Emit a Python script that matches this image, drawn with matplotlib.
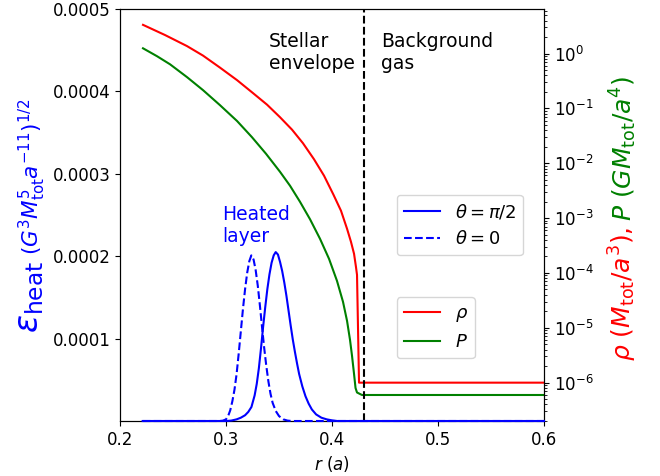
import matplotlib
matplotlib.use("Agg")
import matplotlib.pyplot as plt

# ---- data ----
r_rho = [0.2217, 0.2425, 0.2632, 0.2783, 0.2943, 0.3104, 0.3255, 0.3387, 0.3509,
         0.3623, 0.3726, 0.3830, 0.3925, 0.4014, 0.4085, 0.4142, 0.4179, 0.4208,
         0.4226, 0.4236, 0.4255, 0.6]
rho = [3.342, 2.177, 1.370, 0.9194, 0.5552, 0.3282, 0.1901, 0.1172, 0.06931,
       0.04099, 0.02323, 0.01186, 5.928e-3, 2.668e-3, 1.361e-3, 6.39e-4, 3.70e-4, 2.234e-4,
       1.293e-4, 9.24e-5, 1.0e-6, 1.0e-6]

r_P = [0.2217, 0.2349, 0.2472, 0.2632, 0.2783, 0.2943, 0.3104, 0.3245, 0.3377,
       0.3509, 0.3604, 0.3698, 0.3793, 0.3887, 0.3972, 0.4047, 0.4104, 0.4142,
       0.4170, 0.4189, 0.4208, 0.4222, 0.4236, 0.4283, 0.6]
P = [1.249, 0.8965, 0.6378, 0.3724, 0.2157, 0.1148, 0.05906, 0.02990, 0.01495,
     7.014e-3, 3.895e-3, 1.987e-3, 9.52e-4, 4.195e-4, 1.810e-4, 7.18e-5, 2.971e-5, 1.336e-5,
     6.013e-6, 3.069e-6, 1.440e-6, 7.99e-7, 6.62e-7, 5.96e-7, 5.96e-7]

r_heat_eq = [0.2214, 0.300, 0.305, 0.310, 0.314, 0.318, 0.321, 0.324, 0.327, 0.329,
             0.331, 0.333, 0.335, 0.337, 0.339, 0.341, 0.343, 0.345, 0.3469, 0.349,
             0.351, 0.353, 0.355, 0.357, 0.359, 0.361, 0.363, 0.365, 0.367, 0.369,
             0.372, 0.375, 0.378, 0.381, 0.385, 0.390, 0.395, 0.400, 0.405, 0.6]
heat_eq = [0, 0, 0.005e-4, 0.02e-4, 0.04e-4, 0.07e-4, 0.11e-4, 0.17e-4, 0.31e-4, 0.45e-4,
           0.64e-4, 0.88e-4, 1.14e-4, 1.38e-4, 1.60e-4, 1.78e-4, 1.92e-4, 2.01e-4, 2.05e-4, 2.02e-4,
           1.93e-4, 1.82e-4, 1.68e-4, 1.52e-4, 1.34e-4, 1.16e-4, 0.99e-4, 0.84e-4, 0.70e-4, 0.57e-4,
           0.42e-4, 0.30e-4, 0.21e-4, 0.14e-4, 0.08e-4, 0.04e-4, 0.02e-4, 0.008e-4, 0, 0]

r_heat_pole = [0.2214, 0.294, 0.297, 0.300, 0.302, 0.304, 0.306, 0.308, 0.310, 0.312,
               0.314, 0.316, 0.318, 0.320, 0.322, 0.3239, 0.326, 0.328, 0.330, 0.332,
               0.334, 0.336, 0.338, 0.340, 0.342, 0.344, 0.347, 0.350, 0.354, 0.358,
               0.362, 0.6]
heat_pole = [0, 0, 0.004e-4, 0.02e-4, 0.06e-4, 0.13e-4, 0.24e-4, 0.38e-4, 0.57e-4, 0.82e-4,
             1.09e-4, 1.36e-4, 1.60e-4, 1.80e-4, 1.94e-4, 2.01e-4, 1.96e-4, 1.83e-4, 1.64e-4, 1.40e-4,
             1.14e-4, 0.89e-4, 0.67e-4, 0.48e-4, 0.33e-4, 0.22e-4, 0.12e-4, 0.06e-4, 0.02e-4, 0.005e-4,
             0, 0]

r_boundary = 0.43
left_ticks = [0.0001, 0.0002, 0.0003, 0.0004, 0.0005]
left_ticklabels = ["0.0001", "0.0002", "0.0003", "0.0004", "0.0005"]
x_ticks = [0.2, 0.3, 0.4, 0.5, 0.6]

fig = plt.figure(figsize=(6.6, 4.76), dpi=100)
ax = fig.add_axes([120/660, 1-421/476, 424/660, 412/476])
ax2 = ax.twinx()
ax.set_zorder(ax2.get_zorder() + 1)
ax.patch.set_visible(False)

# density / pressure on right log axis
ax2.plot(r_rho, rho, color="red", lw=1.5, label=r"$\rho$")
ax2.plot(r_P, P, color="green", lw=1.5, label=r"$P$")
ax2.set_yscale("log")
ax2.set_ylim(2.0e-7, 6.5)
ax2.tick_params(axis="y", labelsize=12)

# heating on left axis
ax.plot(r_heat_eq, heat_eq, color="blue", lw=1.5, label=r"$\theta=\pi/2$",
        clip_on=False, zorder=3)
ax.plot(r_heat_pole, heat_pole, color="blue", lw=1.5, ls="--", label=r"$\theta=0$",
        clip_on=False, zorder=3)
ax.axvline(r_boundary, color="black", ls="--", lw=1.5)

ax.set_xlim(0.2, 0.6)
ax.set_ylim(0, 0.0005)
ax.set_xticks(x_ticks)
ax.set_xticklabels([f"{v:.1f}" for v in x_ticks])
ax.set_yticks(left_ticks)
ax.set_yticklabels(left_ticklabels)
ax.tick_params(labelsize=12)
ax.set_xlabel(r"$r\ (a)$", fontsize=12)

# left label: two parts with different sizes
fig.text(29/660, 1-297/476, r"$\varepsilon_{\rm heat}$", color="blue", fontsize=24,
         rotation=90, ha="center", va="center")
fig.text(32/660, 1-177/476, r"$(G^3M_{\rm tot}^5a^{-11})^{1/2}$", color="blue",
         fontsize=15.5, rotation=90, ha="center", va="center")

# right label in two colours
fig.text(623/660, 1-294/476, r"$\rho\ (M_{\rm tot}/a^3),$", color="red", fontsize=18,
         rotation=90, ha="center", va="center")
fig.text(623/660, 1-148/476, r"$P\ (GM_{\rm tot}/a^4)$", color="green", fontsize=18,
         rotation=90, ha="center", va="center")

ax.text(0.352, 0.945, "Stellar\nenvelope", transform=ax.transAxes, fontsize=13.5,
        ha="left", va="top")
ax.text(0.6156, 0.945, "Background\ngas", transform=ax.transAxes, fontsize=13.5,
        ha="left", va="top")
ax.text(0.242, 0.524, "Heated\nlayer", transform=ax.transAxes, fontsize=13.5,
        color="blue", ha="left", va="top")

ax.legend(loc="upper left", bbox_to_anchor=(0.653, 0.549), borderaxespad=0, fontsize=13)
ax2.legend(loc="upper left", bbox_to_anchor=(0.653, 0.301), borderaxespad=0, fontsize=13)

fig.savefig("out.png", dpi=100)
